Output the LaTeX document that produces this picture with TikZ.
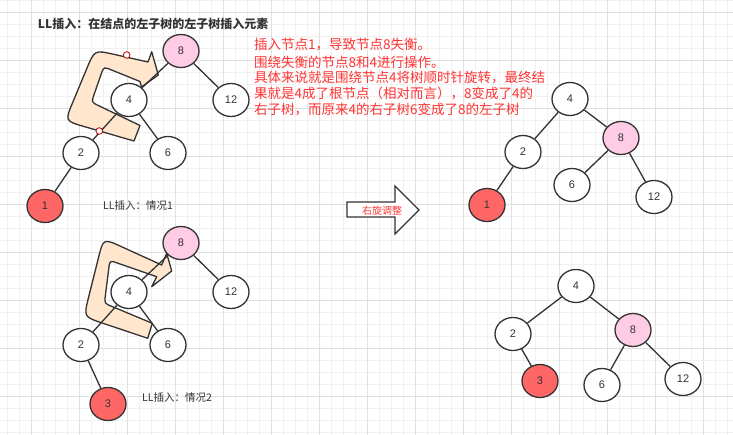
\documentclass[tikz,border=0pt]{standalone}
\usepackage{fontspec}
\setmainfont{Liberation Sans}
\newfontfamily\cjk{Noto Sans CJK SC}
\usetikzlibrary{shapes.geometric,calc}
\definecolor{c33}{HTML}{333333}
\definecolor{pinkn}{HTML}{FFCCE6}
\definecolor{redn}{HTML}{FF6666}
\definecolor{peach}{HTML}{FFE6CC}
\definecolor{redtxt}{HTML}{FF3333}
\definecolor{gmin}{HTML}{F0F0F0}
\definecolor{gmaj}{HTML}{E0E0E0}
\definecolor{mk}{HTML}{B20000}
\begin{document}
\begin{tikzpicture}[x=1pt,y=-1pt,
 tn/.style={ellipse, draw=c33, line width=1.3pt, fill=white, minimum width=36pt, minimum height=33pt, inner sep=0pt, text=c33, font=\fontsize{11}{13}\selectfont},
 pk/.style={tn, fill=pinkn},
 rd/.style={tn, fill=redn},
 edge/.style={draw=c33, line width=1.3pt},
 band/.style={draw=c33, line width=1.3pt, fill=peach, line join=round},
 redline/.style={anchor=west, inner sep=0pt, text=redtxt, font=\cjk\fontsize{13.5}{16}\selectfont},
 capt/.style={inner sep=0pt, text=c33, font=\cjk\fontsize{10.5}{12}\selectfont},
 marker/.style={draw=mk, fill=white, line width=0.8pt}
]
\useasboundingbox (0,0) rectangle (733,435);
\fill[white] (0,0) rectangle (733,435);
\foreach \i in {0,...,60} \draw[gmin, line width=0.8pt] ({7.3+12*\i},0) -- ({7.3+12*\i},435);
\foreach \j in {0,...,36} \draw[gmin, line width=0.8pt] (0,{0.7+12*\j}) -- (733,{0.7+12*\j});
\foreach \i in {0,...,14} \draw[gmaj, line width=0.8pt] ({31.3+48*\i},0) -- ({31.3+48*\i},435);
\foreach \j in {0,...,8} \draw[gmaj, line width=0.8pt] (0,{12.7+48*\j}) -- (733,{12.7+48*\j});

% title
\node[anchor=west, inner sep=0pt, text=c33, font=\cjk\bfseries\fontsize{12}{14}\selectfont] (title) at (37.7,24) {LL插入：在结点的左子树的左子树插入元素};

% rotation arrow 1
\coordinate (pO1) at (134,141);
\coordinate (pO2) at (65,121);
\coordinate (pO3) at (94.5,50);
\coordinate (pO4) at (148,62);
\coordinate (pH1) at (151.7,51.7);
\coordinate (pH2) at (158.3,75);
\coordinate (pH3) at (141.5,87);
\coordinate (pI1) at (140,81.5);
\coordinate (pI2) at (103.7,66.8);
\coordinate (pI3) at (91.4,102.2);
\coordinate (pT) at (140,125.5);
\draw[band] (pO1) -- ($(pO2)!20pt!(pO1)$) .. controls (pO2) .. ($(pO2)!20pt!(pO3)$)
  -- ($(pO3)!20pt!(pO2)$) .. controls (pO3) .. ($(pO3)!20pt!(pO4)$)
  -- (pO4) -- (pH1) -- (pH2) -- (pH3) -- (pI1)
  -- ($(pI2)!8pt!(pI1)$) .. controls (pI2) .. ($(pI2)!8pt!(pI3)$)
  -- ($(pI3)!8pt!(pI2)$) .. controls (pI3) .. ($(pI3)!8pt!(pT)$)
  -- (pT) -- cycle;

% rotation arrow 2
\coordinate (qO1) at (147.7,338.3);
\coordinate (qO2) at (83.7,316.8);
\coordinate (qO3) at (103.3,238.4);
\coordinate (qO4) at (161.7,265);
\coordinate (qH1) at (166.7,253.3);
\coordinate (qH2) at (171.7,271);
\coordinate (qH3) at (151.7,286.7);
\coordinate (qI1) at (156.7,276.7);
\coordinate (qI2) at (109.8,260.4);
\coordinate (qI3) at (104.4,303.3);
\coordinate (qT) at (152.3,323.3);
\draw[band] (qO1) -- ($(qO2)!20pt!(qO1)$) .. controls (qO2) .. ($(qO2)!20pt!(qO3)$)
  -- ($(qO3)!20pt!(qO2)$) .. controls (qO3) .. ($(qO3)!20pt!(qO4)$)
  -- (qO4) -- (qH1) -- (qH2) -- (qH3) -- (qI1)
  -- ($(qI2)!8pt!(qI1)$) .. controls (qI2) .. ($(qI2)!8pt!(qI3)$)
  -- ($(qI3)!8pt!(qI2)$) .. controls (qI3) .. ($(qI3)!8pt!(qT)$)
  -- (qT) -- cycle;

% tree 1
\node[pk] (a8) at (181,51) {8};
\node[tn] (a4) at (129,100) {4};
\node[tn] (a12) at (231,100) {12};
\node[tn] (a2) at (81,153) {2};
\node[tn] (a6) at (168,153) {6};
\node[rd] (a1) at (45,206) {1};
\draw[edge] (a8) -- (a4);
\draw[edge] (a8) -- (a12);
\draw[edge] (a4) -- (a2);
\draw[edge] (a4) -- (a6);
\draw[edge] (a2) -- (a1);
\node[capt] (lab1) at (138,206) {LL插入：情况1};

% tree 2
\node[pk] (b8) at (181,243) {8};
\node[tn] (b4) at (129,292) {4};
\node[tn] (b12) at (231,292) {12};
\node[tn] (b2) at (81,345) {2};
\node[tn] (b6) at (168,345) {6};
\node[rd] (b3) at (108,404) {3};
\draw[edge] (b8) -- (b4);
\draw[edge] (b8) -- (b12);
\draw[edge] (b4) -- (b2);
\draw[edge] (b4) -- (b6);
\draw[edge] (b2) -- (b3);
\node[capt] (lab2) at (177,398) {LL插入：情况2};

% markers
\draw[marker] (126.7,55) circle (3.3);
\draw[marker] (99.3,131) circle (3.3);

% explanation
\node[redline] (r1) at (254,45) {插入节点1，导致节点8失衡。};
\node[redline] (r2) at (254,62) {围绕失衡的节点8和4进行操作。};
\node[redline] (r3) at (254,78) {具体来说就是围绕节点4将树顺时针旋转，最终结};
\node[redline] (r4) at (254,93.5) {果就是4成了根节点（相对而言），8变成了4的};
\node[redline] (r5) at (254,109) {右子树，而原来4的右子树6变成了8的左子树};

% big arrow
\draw[edge, fill=white, line join=miter] (347,202) -- (395,202) -- (395,186) -- (419,210) -- (395,234) -- (395,217) -- (347,217) -- cycle;
\node[inner sep=0pt, text=redtxt, font=\cjk\fontsize{10}{12}\selectfont] (rot) at (382,211) {右旋调整};

% result tree 1
\node[tn] (c4) at (570,99) {4};
\node[pk] (c8) at (621,138) {8};
\node[tn] (c2) at (523,152) {2};
\node[tn] (c6) at (572,185) {6};
\node[tn] (c12) at (654,197) {12};
\node[rd] (c1) at (487,205) {1};
\draw[edge] (c4) -- (c2);
\draw[edge] (c4) -- (c8);
\draw[edge] (c8) -- (c6);
\draw[edge] (c8) -- (c12);
\draw[edge] (c2) -- (c1);

% result tree 2
\node[tn] (d4) at (576,286) {4};
\node[tn] (d2) at (513,334) {2};
\node[pk] (d8) at (633,330) {8};
\node[rd] (d3) at (540,381) {3};
\node[tn] (d6) at (602,385) {6};
\node[tn] (d12) at (683,379) {12};
\draw[edge] (d4) -- (d2);
\draw[edge] (d4) -- (d8);
\draw[edge] (d2) -- (d3);
\draw[edge] (d8) -- (d6);
\draw[edge] (d8) -- (d12);
\end{tikzpicture}
\end{document}
